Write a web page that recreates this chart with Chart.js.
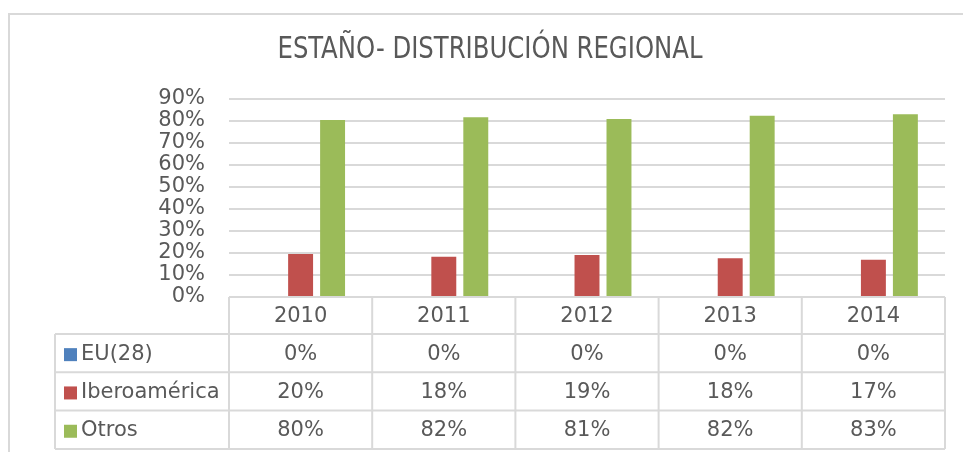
<!DOCTYPE html>
<html>
<head>
<meta charset="utf-8">
<script src="https://cdn.jsdelivr.net/npm/chart.js@4"></script>
<style>
  html, body { margin: 0; padding: 0; background: #fff; overflow: hidden; }
  #wrap { position: relative; width: 963px; height: 452px; }
  #frame { position: absolute; left: 8px; top: 13px; width: 1000px; height: 1000px; border: 2px solid #d9d9d9; box-sizing: border-box; }
  #chart { position: absolute; left: 0; top: 0; }
</style>
</head>
<body>
<div id="wrap">
  <div id="frame"></div>
  <canvas id="chart" width="963" height="452"></canvas>
</div>
<script>
var title = 'ESTAÑO- DISTRIBUCIÓN REGIONAL'
var years = ['2010', '2011', '2012', '2013', '2014']
var eu28 = [0, 0, 0, 0, 0]
var iberoamerica = [19.6, 18.3, 19.1, 17.6, 16.9]
var otros = [80.4, 81.7, 80.9, 82.4, 83.1]
var yTicks = [0, 10, 20, 30, 40, 50, 60, 70, 80, 90]

var textColor = '#595959'
var lineColor = '#d9d9d9'

// title + data table under the plot, drawn on the canvas
var tablePlugin = {
  id: 'dataTable',
  afterDraw: function(chart) {
    var ctx = chart.ctx
    var area = chart.chartArea
    var xs = chart.scales.x
    var n = years.length
    var colW = (area.right - area.left) / n
    var tableLeft = 55
    var headTop = area.bottom
    var headBottom = 334
    var rowH = 38.3
    var rows = chart.data.datasets.length
    var tableBottom = headBottom + rows * rowH

    ctx.save()
    ctx.fillStyle = textColor
    ctx.font = '30px "Liberation Sans Narrow", "DejaVu Sans Condensed", sans-serif'
    ctx.textAlign = 'center'
    ctx.textBaseline = 'middle'
    // squeeze the title a bit, the original face is narrower
    var tw = ctx.measureText(title).width
    var sx = Math.min(1, 425 / tw)
    ctx.translate(490, 50)
    ctx.scale(sx, 1)
    ctx.fillText(title, 0, 0)
    ctx.restore()

    ctx.save()
    ctx.strokeStyle = lineColor
    ctx.lineWidth = 2
    ctx.beginPath()
    // horizontal lines
    ctx.moveTo(area.left, headTop); ctx.lineTo(area.right, headTop)
    for (var r = 0; r <= rows; r++) {
      var y = headBottom + r * rowH
      ctx.moveTo(tableLeft, y); ctx.lineTo(area.right, y)
    }
    // vertical lines
    ctx.moveTo(tableLeft, headBottom); ctx.lineTo(tableLeft, tableBottom)
    for (var i = 0; i <= n; i++) {
      var x = area.left + i * colW
      ctx.moveTo(x, headTop); ctx.lineTo(x, tableBottom)
    }
    ctx.stroke()

    ctx.font = '21px "DejaVu Sans", sans-serif'
    ctx.textBaseline = 'middle'
    ctx.fillStyle = textColor
    ctx.textAlign = 'center'
    for (var i = 0; i < n; i++) {
      var cx = xs.getPixelForValue(i)
      ctx.fillText(years[i], cx, (headTop + headBottom) / 2 + 1)
    }
    chart.data.datasets.forEach(function(ds, r) {
      var cy = headBottom + r * rowH + rowH / 2 + 1
      ctx.fillStyle = ds.backgroundColor
      ctx.fillRect(64, cy - 6, 13, 13)
      ctx.fillStyle = textColor
      ctx.textAlign = 'left'
      ctx.fillText(ds.label, 81, cy)
      ctx.textAlign = 'center'
      for (var i = 0; i < n; i++) {
        ctx.fillText(Math.round(ds.data[i]) + '%', xs.getPixelForValue(i), cy)
      }
    })
    ctx.restore()
  }
}

new Chart(document.getElementById('chart').getContext('2d'), {
  type: 'bar',
  data: {
    labels: years,
    datasets: [
      { label: 'EU(28)', data: eu28, backgroundColor: '#4f81bd' },
      { label: 'Iberoamérica', data: iberoamerica, backgroundColor: '#c0504d' },
      { label: 'Otros', data: otros, backgroundColor: '#9bbb59' }
    ]
  },
  options: {
    responsive: false,
    animation: false,
    layout: { padding: { top: 99, right: 18, bottom: 155, left: 0 } },
    datasets: { bar: { categoryPercentage: 0.67, barPercentage: 0.78 } },
    plugins: {
      legend: { display: false },
      title: { display: false },
      tooltip: { enabled: false }
    },
    scales: {
      x: { display: false },
      y: {
        min: 0,
        max: 90,
        afterFit: function(scale) { scale.width = 229 },
        afterBuildTicks: function(scale) { scale.ticks = yTicks.map(v => ({ value: v })) },
        border: { display: false },
        grid: { color: lineColor, lineWidth: 2, drawTicks: false },
        ticks: {
          autoSkip: false,
          padding: 24,
          color: textColor,
          font: { family: '"DejaVu Sans", sans-serif', size: 21, lineHeight: 1 },
          callback: function(v) { return v + '%' }
        }
      }
    }
  },
  plugins: [tablePlugin]
})
</script>
</body>
</html>
